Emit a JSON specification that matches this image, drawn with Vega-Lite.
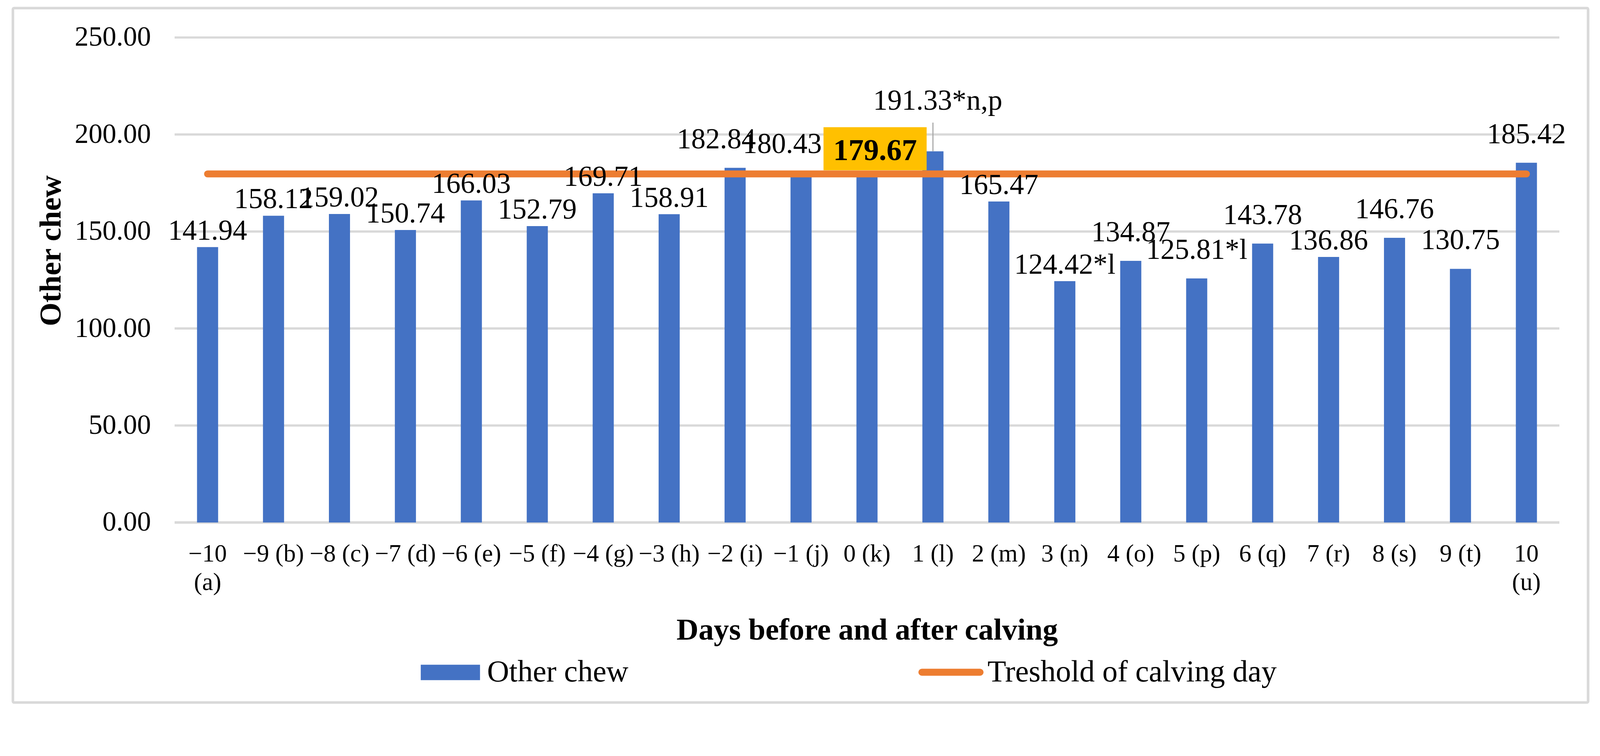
{
  "$schema": "https://vega.github.io/schema/vega-lite/v6.json",
  "width": 4032.5,
  "height": 1778.3,
  "autosize": {"type": "none"},
  "padding": {"left": 33, "top": 20.7, "right": 30.5, "bottom": 25},
  "background": "white",
  "config": {
    "view": {"stroke": "#d9d9d9", "strokeWidth": 6.6, "cornerRadius": 3},
    "font": "Liberation Serif",
    "text": {"font": "Liberation Serif", "color": "#000000"}
  },
  "datasets": {
    "chew": [
      {"day": "−10 (a)", "value": 141.94, "label": "141.94", "threshold": 179.67},
      {"day": "−9 (b)", "value": 158.12, "label": "158.12", "threshold": 179.67},
      {"day": "−8 (c)", "value": 159.02, "label": "159.02", "threshold": 179.67},
      {"day": "−7 (d)", "value": 150.74, "label": "150.74", "threshold": 179.67},
      {"day": "−6 (e)", "value": 166.03, "label": "166.03", "threshold": 179.67},
      {"day": "−5 (f)", "value": 152.79, "label": "152.79", "threshold": 179.67},
      {"day": "−4 (g)", "value": 169.71, "label": "169.71", "threshold": 179.67},
      {"day": "−3 (h)", "value": 158.91, "label": "158.91", "threshold": 179.67},
      {"day": "−2 (i)", "value": 182.84, "label": "182.84", "threshold": 179.67},
      {"day": "−1 (j)", "value": 180.43, "label": "180.43", "threshold": 179.67},
      {"day": "0 (k)", "value": 179.67, "label": "179.67", "threshold": 179.67},
      {"day": "1 (l)", "value": 191.33, "label": "191.33*n,p", "threshold": 179.67},
      {"day": "2 (m)", "value": 165.47, "label": "165.47", "threshold": 179.67},
      {"day": "3 (n)", "value": 124.42, "label": "124.42*l", "threshold": 179.67},
      {"day": "4 (o)", "value": 134.87, "label": "134.87", "threshold": 179.67},
      {"day": "5 (p)", "value": 125.81, "label": "125.81*l", "threshold": 179.67},
      {"day": "6 (q)", "value": 143.78, "label": "143.78", "threshold": 179.67},
      {"day": "7 (r)", "value": 136.86, "label": "136.86", "threshold": 179.67},
      {"day": "8 (s)", "value": 146.76, "label": "146.76", "threshold": 179.67},
      {"day": "9 (t)", "value": 130.75, "label": "130.75", "threshold": 179.67},
      {"day": "10 (u)", "value": 185.42, "label": "185.42", "threshold": 179.67}
    ],
    "grid": [{"v": 0}, {"v": 50}, {"v": 100}, {"v": 150}, {"v": 200}, {"v": 250}]
  },
  "data": {"name": "chew"},
  "encoding": {
    "x": {
      "field": "day",
      "type": "nominal",
      "sort": null,
      "scale": {
        "domain": ["−10 (a)", "−9 (b)", "−8 (c)", "−7 (d)", "−6 (e)", "−5 (f)", "−4 (g)", "−3 (h)", "−2 (i)", "−1 (j)", "0 (k)", "1 (l)", "2 (m)", "3 (n)", "4 (o)", "5 (p)", "6 (q)", "7 (r)", "8 (s)", "9 (t)", "10 (u)"],
        "paddingInner": 0.68,
        "paddingOuter": 0.34,
        "rangeMin": 414,
        "rangeMax": 3959
      },
      "axis": {
        "title": "Days before and after calving",
        "offset": -461,
        "labelAngle": 0,
        "labelFont": "Liberation Serif",
        "labelFontSize": 63,
        "labelColor": "#000000",
        "labelPadding": 49,
        "labelLineHeight": 73,
        "labelLimit": 500,
        "labelExpr": "(datum.value == '−10 (a)' || datum.value == '10 (u)') ? split(datum.value, ' ') : datum.value",
        "ticks": false,
        "tickSize": 0,
        "domain": false,
        "grid": false,
        "titleFont": "Liberation Serif",
        "titleFontSize": 78,
        "titleFontWeight": "bold",
        "titleColor": "#000000",
        "titleBaseline": "alphabetic",
        "titleY": 299
      }
    },
    "y": {
      "type": "quantitative",
      "scale": {"domain": [-92.794, 265.157], "nice": false, "zero": false},
      "axis": {
        "title": "Other chew",
        "offset": -414,
        "values": [0, 50, 100, 150, 200, 250],
        "format": ".2f",
        "labelFont": "Liberation Serif",
        "labelFontSize": 71,
        "labelColor": "#000000",
        "labelPadding": 61,
        "labelLimit": 500,
        "ticks": false,
        "tickSize": 0,
        "domain": false,
        "grid": false,
        "titleFont": "Liberation Serif",
        "titleFontSize": 78,
        "titleFontWeight": "bold",
        "titleColor": "#000000",
        "titleAngle": -90,
        "titleAlign": "center",
        "titleBaseline": "alphabetic",
        "titleX": -293,
        "titleY": 621
      }
    }
  },
  "layer": [
    {
      "data": {"name": "grid"},
      "mark": {"type": "rule", "color": "#d9d9d9"},
      "encoding": {
        "x": {"datum": "−10 (a)", "type": "nominal", "bandPosition": -1.0625},
        "x2": {"datum": "10 (u)", "bandPosition": 2.062},
        "y": {"field": "v", "type": "quantitative"},
        "strokeWidth": {"condition": {"test": "datum.v == 0", "value": 6.6}, "value": 5.7}
      }
    },
    {
      "mark": {"type": "bar"},
      "encoding": {
        "y": {"field": "value", "type": "quantitative"},
        "fill": {
          "datum": "Other chew",
          "scale": {"domain": ["Other chew"], "range": ["#4472C4"]},
          "legend": {
            "title": null,
            "orient": "none",
            "legendX": 1044,
            "legendY": 1625.3,
            "padding": 0,
            "symbolType": "M-1,-0.261H1V0.261H-1Z",
            "symbolSize": 23010,
            "symbolStrokeWidth": 0,
            "labelFont": "Liberation Serif",
            "labelFontSize": 78,
            "labelColor": "#000000",
            "labelOffset": 18,
            "labelLimit": 2000
          }
        }
      }
    },
    {
      "mark": {"type": "line", "strokeWidth": 17.9, "strokeCap": "round"},
      "encoding": {
        "y": {"field": "threshold", "type": "quantitative"},
        "stroke": {
          "datum": "Treshold of calving day",
          "scale": {"domain": ["Treshold of calving day"], "range": ["#ED7D31"]},
          "legend": {
            "title": null,
            "orient": "none",
            "legendX": 2318,
            "legendY": 1617.3,
            "padding": 0,
            "symbolType": "stroke",
            "symbolSize": 22160,
            "symbolStrokeWidth": 17.9,
            "labelFont": "Liberation Serif",
            "labelFontSize": 78,
            "labelColor": "#000000",
            "labelOffset": 10,
            "labelLimit": 3000,
            "encode": {"symbols": {"update": {"strokeCap": {"value": "round"}}}}
          }
        }
      }
    },
    {
      "transform": [{"filter": {"field": "day", "oneOf": ["−10 (a)", "−9 (b)", "−8 (c)", "−7 (d)", "−6 (e)", "−5 (f)", "−4 (g)", "−3 (h)", "2 (m)", "3 (n)", "7 (r)"]}}],
      "mark": {"type": "text", "fontSize": 73.5, "font": "Liberation Serif", "baseline": "alphabetic", "align": "center", "dy": -19, "color": "#000000"},
      "encoding": {
        "y": {"field": "value", "type": "quantitative"},
        "text": {"field": "label"}
      }
    },
    {
      "transform": [{"filter": {"field": "day", "oneOf": ["4 (o)", "5 (p)", "6 (q)", "8 (s)", "9 (t)", "10 (u)"]}}],
      "mark": {"type": "text", "fontSize": 73.5, "font": "Liberation Serif", "baseline": "alphabetic", "align": "center", "dy": -50, "color": "#000000"},
      "encoding": {
        "y": {"field": "value", "type": "quantitative"},
        "text": {"field": "label"}
      }
    },
    {
      "transform": [{"filter": {"field": "day", "oneOf": ["−2 (i)", "−1 (j)"]}}],
      "mark": {"type": "text", "fontSize": 73.5, "font": "Liberation Serif", "baseline": "alphabetic", "align": "center", "dx": -48, "dy": -50, "color": "#000000"},
      "encoding": {
        "y": {"field": "value", "type": "quantitative"},
        "text": {"field": "label"}
      }
    },
    {
      "transform": [{"filter": {"field": "day", "equal": "0 (k)"}}],
      "mark": {"type": "rect", "color": "#FFC000", "width": 264, "xOffset": 20.7, "yOffset": -119.6, "y2Offset": -9.4},
      "encoding": {
        "y": {"field": "value", "type": "quantitative"},
        "y2": {"field": "value"}
      }
    },
    {
      "transform": [{"filter": {"field": "day", "equal": "0 (k)"}}],
      "mark": {"type": "text", "fontSize": 78, "fontWeight": "bold", "font": "Liberation Serif", "baseline": "alphabetic", "align": "center", "dx": 20.7, "dy": -34.9, "color": "#000000"},
      "encoding": {
        "y": {"field": "value", "type": "quantitative"},
        "text": {"field": "label"}
      }
    },
    {
      "transform": [{"filter": {"field": "day", "equal": "1 (l)"}}],
      "mark": {"type": "rule", "color": "#a6a6a6", "strokeWidth": 2.8, "y2Offset": -73.5},
      "encoding": {
        "y": {"field": "value", "type": "quantitative"},
        "y2": {"field": "value"}
      }
    },
    {
      "transform": [{"filter": {"field": "day", "equal": "1 (l)"}}],
      "mark": {"type": "text", "fontSize": 73.5, "font": "Liberation Serif", "baseline": "alphabetic", "align": "center", "dx": 12.2, "dy": -106.5, "color": "#000000"},
      "encoding": {
        "y": {"field": "value", "type": "quantitative"},
        "text": {"field": "label"}
      }
    }
  ]
}
